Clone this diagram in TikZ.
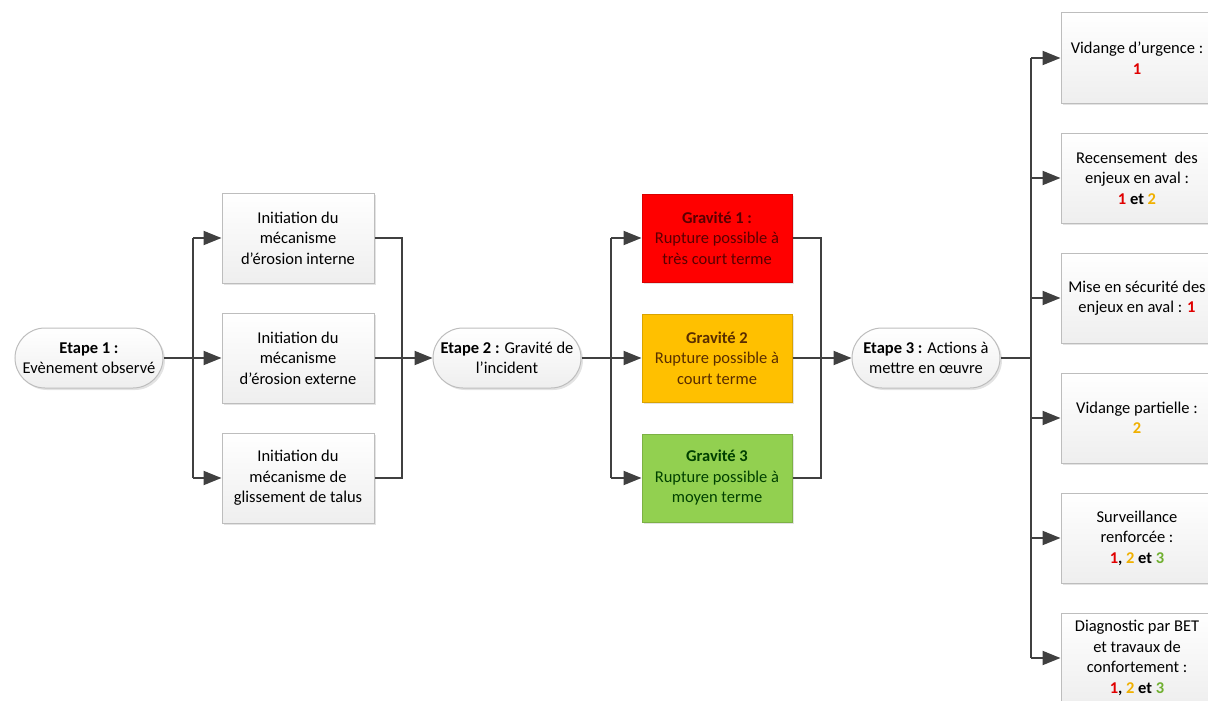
\documentclass[tikz,border=0pt]{standalone}
\usepackage{fontspec}
\setmainfont{Carlito}
\usetikzlibrary{arrows.meta,shadows,shapes.misc}

\definecolor{linegray}{HTML}{404040}
\definecolor{boxborder}{HTML}{BDBDBD}
\definecolor{gred}{HTML}{FF0000}
\definecolor{gorange}{HTML}{FFC000}
\definecolor{ggreen}{HTML}{92D050}
\definecolor{tred}{HTML}{E00000}
\definecolor{torange}{HTML}{F0B000}
\definecolor{tgreen}{HTML}{70B030}

\tikzset{
  every node/.style={font=\fontsize{16.5}{20.5}\selectfont, align=center, inner sep=1pt},
  shade/.style={drop shadow={shadow xshift=2pt, shadow yshift=-2pt, opacity=0.22}},
  box/.style={shade, draw=boxborder, line width=1pt, top color=white, bottom color=gray!13,
              minimum width=152pt, minimum height=90pt},
  grav/.style={shade, draw=#1!85!black, line width=1pt, fill=#1,
               minimum width=150pt, minimum height=88pt},
  stage/.style={shade, rounded rectangle, draw=boxborder, line width=1pt,
                top color=white, bottom color=gray!13,
                minimum width=150pt, minimum height=60pt},
  wire/.style={draw=linegray, line width=2pt},
  feed/.style={wire, -{Triangle[length=18pt,width=14pt]}},
}

\begin{document}
\begin{tikzpicture}[x=1pt,y=-1pt]
\useasboundingbox (0,0) rectangle (1208,701);

% stages
\node[stage] (e1) at (89,358) {\textbf{Etape 1 :}\\Evènement observé};
\node[stage] (e2) at (507,358) {\textbf{Etape 2 :} Gravité de\\l’incident};
\node[stage] (e3) at (926,358) {\textbf{Etape 3 :} Actions à\\mettre en œuvre};

% mechanisms
\node[box] (m1) at (298,238) {Initiation du\\mécanisme\\d’érosion interne};
\node[box] (m2) at (298,358) {Initiation du\\mécanisme\\d’érosion externe};
\node[box] (m3) at (298,478) {Initiation du\\mécanisme de\\glissement de talus};

% severity levels
\node[grav=gred, text=red!35!black] (g1) at (717,238)
  {\textbf{Gravité 1 :}\\Rupture possible à\\très court terme};
\node[grav=gorange, text=orange!35!black] (g2) at (717,358)
  {\textbf{Gravité 2}\\Rupture possible à\\court terme};
\node[grav=ggreen, text=green!25!black] (g3) at (717,478)
  {\textbf{Gravité 3}\\Rupture possible à\\moyen terme};

% actions
\node[box] (a1) at (1137,58) {Vidange d’urgence :\\\textbf{\textcolor{tred}{1}}};
\node[box] (a2) at (1137,178) {Recensement\ \ des\\enjeux en aval :\\\textbf{\textcolor{tred}{1} et \textcolor{torange}{2}}};
\node[box] (a3) at (1137,298) {Mise en sécurité des\\enjeux en aval : \textbf{\textcolor{tred}{1}}};
\node[box] (a4) at (1137,418) {Vidange partielle :\\\textbf{\textcolor{torange}{2}}};
\node[box] (a5) at (1137,538) {Surveillance\\renforcée :\\\textbf{\textcolor{tred}{1}, \textcolor{torange}{2} et \textcolor{tgreen}{3}}};
\node[box] (a6) at (1137,658) {Diagnostic par BET\\et travaux de\\confortement :\\\textbf{\textcolor{tred}{1}, \textcolor{torange}{2} et \textcolor{tgreen}{3}}};

% bus junctions
\coordinate (s1) at (193,358);
\coordinate (j1) at (402,358);
\coordinate (s2) at (611,358);
\coordinate (j2) at (821,358);
\coordinate (s3) at (1031,358);

% stage 1 -> mechanisms
\draw[wire] (e1.east) -- (s1);
\draw[wire] (s1 |- m1) -- (s1 |- m3);
\foreach \n in {m1,m2,m3} \draw[feed] (s1 |- \n) -- (\n.west);

% mechanisms -> stage 2
\draw[wire] (m1.east) -- (j1 |- m1) -- (j1 |- m3) -- (m3.east);
\draw[wire] (m2.east) -- (j1);
\draw[feed] (j1) -- (e2.west);

% stage 2 -> severity levels
\draw[wire] (e2.east) -- (s2);
\draw[wire] (s2 |- g1) -- (s2 |- g3);
\foreach \n in {g1,g2,g3} \draw[feed] (s2 |- \n) -- (\n.west);

% severity levels -> stage 3
\draw[wire] (g1.east) -- (j2 |- g1) -- (j2 |- g3) -- (g3.east);
\draw[wire] (g2.east) -- (j2);
\draw[feed] (j2) -- (e3.west);

% stage 3 -> actions
\draw[wire] (e3.east) -- (s3);
\draw[wire] (s3 |- a1) -- (s3 |- a6);
\foreach \n in {a1,a2,a3,a4,a5,a6} \draw[feed] (s3 |- \n) -- (\n.west);
\end{tikzpicture}
\end{document}
